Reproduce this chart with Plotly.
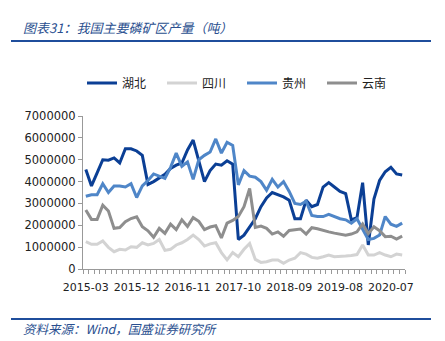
import plotly.graph_objects as go

# Categories: monthly data, Jan/Feb excluded (2015-03 .. 2020-09)
years = [2015, 2016, 2017, 2018, 2019, 2020]
months = [m for y in years for m in (f"{y}-{k:02d}" for k in range(3, 13))][:57]

tick_labels = ["2015-03", "2015-12", "2016-11", "2017-10", "2018-09", "2019-08", "2020-07"]

hubei = [4.55, 3.8, 4.4, 5.0, 4.98, 5.08, 4.85, 5.5, 5.5, 5.4,
         5.2, 3.87, 4.0, 4.17, 4.33, 4.6, 4.75, 4.85, 5.45, 5.9,
         5.0, 4.0, 4.5, 4.8, 4.75, 4.95, 4.8, 1.35, 1.55, 1.9,
         2.3, 2.85, 3.25, 3.5, 3.4, 3.3, 3.15, 2.3, 2.3, 3.15,
         2.85, 2.95, 3.75, 3.95, 3.75, 3.55, 3.45, 2.25, 2.35, 3.95,
         1.1, 3.2, 4.05, 4.45, 4.65, 4.35, 4.3]
sichuan = [1.25, 1.13, 1.13, 1.28, 0.99, 0.79, 0.9, 0.87, 1.02, 0.99,
           1.2, 1.1, 1.17, 1.35, 0.85, 0.9, 1.1, 1.2, 1.35, 1.55,
           1.35, 1.05, 1.15, 1.2, 0.75, 0.42, 0.75, 0.56, 0.9, 1.17,
           0.44, 0.3, 0.33, 0.41, 0.41, 0.26, 0.41, 0.49, 0.75, 0.68,
           0.53, 0.49, 0.56, 0.64, 0.56, 0.56, 0.59, 0.62, 0.66, 1.1,
           0.64, 0.64, 0.75, 0.64, 0.56, 0.68, 0.64]
guizhou = [3.33, 3.4, 3.4, 3.9, 3.5, 3.8, 3.8, 3.75, 3.9, 3.27,
           3.8, 4.05, 4.35, 4.25, 4.15, 4.65, 5.3, 4.7, 4.9, 4.1,
           5.0, 5.2, 5.35, 5.95, 5.3, 5.8, 5.65, 3.85, 4.5, 4.25,
           4.2, 4.0, 3.6, 4.1, 3.75, 4.0, 3.55, 3.0, 2.95, 3.1,
           2.45, 2.4, 2.4, 2.5, 2.4, 2.3, 2.25, 2.1, 2.3, 1.8,
           1.35, 1.4, 1.55, 2.4, 2.05, 1.95, 2.1]
yunnan = [2.7, 2.27, 2.27, 2.92, 2.65, 1.86, 1.9, 2.16, 2.31, 2.39,
          1.93, 1.75, 1.45, 1.86, 1.63, 2.05, 1.8, 2.25, 1.95, 2.35,
          2.18, 1.8, 1.92, 1.98, 1.42, 2.1, 2.22, 2.4, 2.85, 3.68,
          1.9, 1.96, 1.86, 1.6, 1.7, 1.5, 1.76, 1.78, 1.83, 1.6,
          1.89, 1.84, 1.76, 1.7, 1.64, 1.6, 1.55, 1.6, 1.7, 2.06,
          1.62, 1.93, 1.75, 1.48, 1.5, 1.37, 1.5]

series = [("湖北", hubei, "#0b3f95"), ("四川", sichuan, "#d3d3d3"),
          ("贵州", guizhou, "#4f86c8"), ("云南", yunnan, "#8e8e8e")]

xidx = list(range(len(months)))
tickvals = [months.index(t) for t in tick_labels]

fig = go.Figure()
for name, vals, col in series:
    fig.add_trace(go.Scatter(x=xidx, y=[v * 1e6 for v in vals], name=name, mode="lines",
                             line=dict(color=col, width=3), customdata=months))

W, H = 445, 341
ml, mr, mt, mb = 83, 40, 116, 72
pw, ph = W - ml - mr, H - mt - mb

def px(x):
    return (x - ml) / pw

def py(y):
    return (H - mb - y) / ph

blue = "#1f4e9c"
txtblue = "#2a4f8f"

fig.update_layout(
    width=W, height=H, margin=dict(l=ml, r=mr, t=mt, b=mb),
    paper_bgcolor="white", plot_bgcolor="white",
    font=dict(family="DejaVu Sans", size=11, color="#222"),
    showlegend=True,
    legend=dict(orientation="h", x=px(82), xanchor="left", y=py(83), yanchor="middle",
                font=dict(family="Noto Sans CJK SC", size=12, color="#222"),
                itemwidth=30, entrywidth=35, entrywidthmode="pixels",
                tracegroupgap=0, bgcolor="rgba(0,0,0,0)"),
    xaxis=dict(range=[-0.5, len(months) - 0.5], tickmode="array", tickvals=tickvals,
               ticktext=tick_labels, ticks="", showline=True, linecolor="#999", linewidth=1,
               showgrid=False, zeroline=False, tickfont=dict(size=11, color="#222"),
               ticklabelstandoff=8,
               minor=dict(ticks="outside", tick0=-0.5, dtick=1, ticklen=4, tickcolor="#999",
                          showgrid=False)),
    yaxis=dict(range=[0, 7e6], tickmode="linear", tick0=0, dtick=1e6, tickformat="d",
               ticks="outside", ticklen=4, tickcolor="#999", showline=True, linecolor="#999",
               linewidth=1, showgrid=False, zeroline=False,
               tickfont=dict(size=11.5, color="#222")),
)

fig.add_shape(type="line", xref="paper", yref="paper", x0=px(11), x1=px(431),
              y0=py(41), y1=py(41), line=dict(color=blue, width=2))
fig.add_shape(type="line", xref="paper", yref="paper", x0=px(11), x1=px(431),
              y0=py(319), y1=py(319), line=dict(color=blue, width=2))

fig.add_annotation(text="图表31：我国主要磷矿区产量（吨）", xref="paper", yref="paper",
                   x=px(21), y=py(27), xanchor="left", yanchor="middle", showarrow=False,
                   font=dict(family="Noto Sans CJK SC", size=13, color=txtblue, style="italic"))
fig.add_annotation(text="资料来源：Wind，国盛证券研究所", xref="paper", yref="paper",
                   x=px(21), y=py(328), xanchor="left", yanchor="middle", showarrow=False,
                   font=dict(family="Noto Sans CJK SC", size=12.5, color=txtblue, style="italic"))

fig.write_html("out.html")
